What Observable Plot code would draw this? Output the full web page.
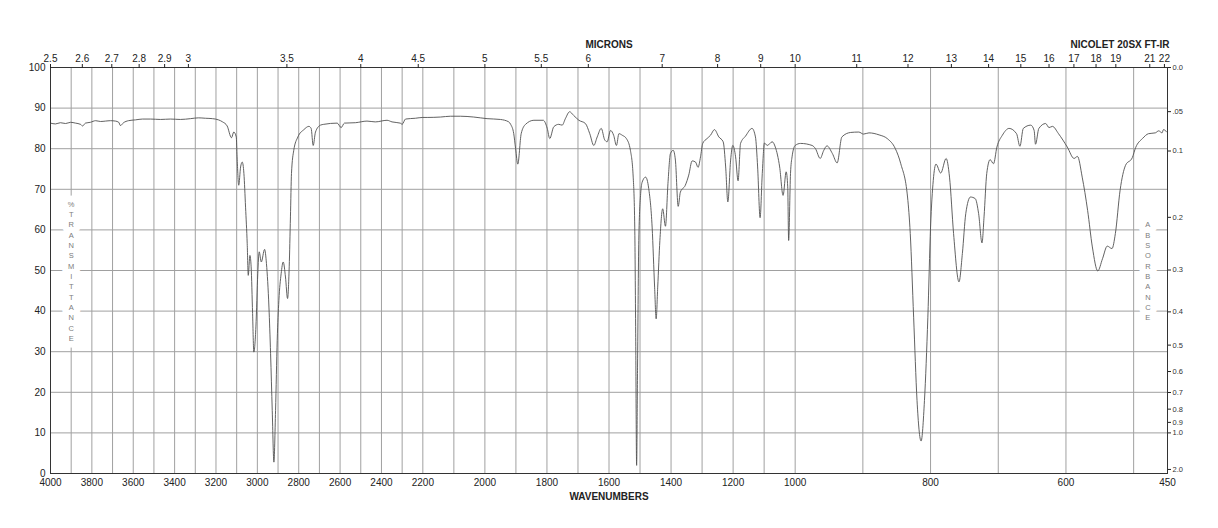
<!DOCTYPE html>
<html><head><meta charset="utf-8">
<script src="https://cdn.jsdelivr.net/npm/d3@7"></script>
<script src="https://cdn.jsdelivr.net/npm/@observablehq/plot@0.6"></script>
<style>html,body{margin:0;padding:0;background:#fff;} #chart svg{display:block}</style>
</head><body><div id="chart"></div>
<script>
// ---- data ----
const wavenumbers = [
4000,3976,3952,3927,3903,3879,3855,3845,3831,3807,3782,3758,3734,3710,3686,3670,3662,3647,3623,3589,
3555,3517,3468,3420,3372,3323,3285,3251,3217,3188,3168,3146,3125,3114,3102,3098,3090,3081,3073,3065,
3057,3049,3044,3036,3030,3023,3017,3007,2998,2991,2981,2965,2956,2944,2936,2928,2920,2912,2904,2896,
2885,2875,2864,2854,2846,2840,2835,2824,2804,2775,2751,2740,2730,2719,2695,2679,2614,2595,2579,2526,
2470,2430,2373,2349,2309,2300,2284,2236,2200,2186,2143,2111,2079,2036,1993,1950,1923,1917,1907,1901,
1894,1883,1869,1842,1812,1799,1791,1778,1762,1751,1740,1727,1714,1697,1676,1662,1649,1638,1625,1614,
1606,1595,1585,1576,1568,1557,1544,1531,1522,1517,1514,1511,1508,1504,1498,1493,1482,1472,1461,1453,
1448,1443,1436,1427,1418,1410,1402,1393,1386,1377,1370,1354,1343,1332,1321,1313,1305,1298,1284,1273,
1260,1246,1232,1224,1217,1208,1201,1192,1184,1176,1160,1139,1128,1121,1113,1106,1099,1090,1074,1064,
1050,1039,1029,1024,1021,1015,1010,1000,992,975,970,963,958,953,945,938,931,918,906,899,
891,876,864,852,844,834,830,825,820,814,809,804,800,796,792,785,777,772,766,758,
753,748,741,734,729,724,721,717,712,707,702,694,684,673,668,663,652,647,645,640,
630,625,620,611,598,588,583,576,568,561,553,546,539,532,527,520,512,502,497,487,
478,468,463,458,456,451
];
const transmittance = [
86.3,86.1,86.4,86.2,86.5,86.3,86.0,85.6,86.3,86.5,86.9,86.7,86.8,86.9,86.8,86.5,85.7,86.4,86.9,87.1,
87.3,87.3,87.2,87.3,87.2,87.4,87.6,87.5,87.4,87.1,86.6,85.6,82.7,84.1,82.9,78.0,71.0,75.5,76.7,73.9,
65.6,56.6,48.8,53.7,50.9,39.4,29.9,36.1,49.2,54.6,52.1,55.2,51.7,41.0,29.5,15.5,2.8,15.5,32.8,42.6,
49.2,52.1,48.4,43.1,50.9,63.2,73.9,79.6,82.9,84.7,85.5,85.0,80.8,84.1,85.8,86.0,86.3,85.2,86.3,86.4,
86.8,86.6,87.0,86.6,86.3,86.0,87.3,87.5,87.7,87.7,87.8,88.0,88.0,87.8,87.4,87.2,86.6,86.0,83.7,80.0,
76.2,83.7,86.0,87.0,87.0,85.0,82.5,85.4,86.0,85.8,87.5,89.1,88.2,87.0,86.2,83.7,80.8,82.9,85.0,82.2,
81.7,84.5,83.3,80.8,83.7,83.3,82.5,79.6,73.0,60.7,34.4,2.0,26.2,57.4,68.9,71.8,73.0,70.2,60.7,45.9,
38.1,45.9,57.4,65.2,60.9,71.4,78.8,79.6,77.2,65.8,69.3,71.0,73.5,77.0,76.7,75.4,78.0,81.3,82.5,83.3,
84.7,82.9,81.7,75.5,66.9,77.2,80.8,78.0,72.1,81.3,83.1,85.0,82.9,75.5,63.0,73.9,81.4,80.8,81.7,80.4,
75.5,68.5,74.3,70.6,57.4,73.9,78.0,80.8,81.3,80.8,80.0,77.6,79.5,80.7,78.8,76.5,82.9,84.0,84.1,83.6,
83.9,83.4,82.5,80.0,76.3,68.1,59.1,38.5,18.0,8.0,18.0,38.5,60.7,72.2,76.2,74.0,77.6,73.0,59.1,47.2,
54.2,64.0,68.1,67.7,64.0,56.8,63.2,73.9,77.3,76.3,80.4,83.3,85.0,83.7,80.6,85.0,85.8,84.5,81.1,85.0,
86.2,85.2,85.5,83.7,80.4,77.6,78.1,73.0,64.8,55.8,49.9,52.9,56.0,55.4,59.1,69.8,75.9,77.8,80.3,82.5,
83.7,83.9,84.4,83.9,84.7,84.1
];
const xBreaks = [4000, 2200, 1000, 450];
const bottomTicks = [4000,3800,3600,3400,3200,3000,2800,2600,2400,2200,2000,1800,1600,1400,1200,1000,800,600,450];
const micronTicks = [2.5,2.6,2.7,2.8,2.9,3,3.5,4,4.5,5,5.5,6,7,8,9,10,11,12,13,14,15,16,17,18,19,21,22];
const transTicks = [0,10,20,30,40,50,60,70,80,90,100];
const absTicks = [0,0.05,0.1,0.2,0.3,0.4,0.5,0.6,0.7,0.8,0.9,1.0,2.0];
const absLabels = ["0.0",".05","0.1","0.2","0.3","0.4","0.5","0.6","0.7","0.8","0.9","1.0","2.0"];
const gridWn = [3900,3800,3700,3600,3500,3400,3300,3200,3100,3000,2900,2800,2700,2600,2500,2400,2300,2200,2100,2000,
  1900,1800,1700,1600,1500,1400,1300,1200,1100,1000,900,800,700,600,500];
const gridT = [10,20,30,40,50,60,70,80,90];
const leftTitle = "%TRANSMITTANCE";
const rightTitle = "ABSORBANCE";

// ---- layout ----
const W = 1218, H = 528, mL = 50, mR = 51, mT = 67, mB = 55;
const inner = W - mL - mR;
const xRange = xBreaks.map((_, i) => mL + inner * i / (xBreaks.length - 1));
const data = wavenumbers.map((w, i) => ({w, t: transmittance[i]}));
const absPos = absTicks.map(a => 100 * Math.pow(10, -a));
const absMap = new Map(absPos.map((p, i) => [p, absLabels[i]]));
const stack = s => s.split("").join("\n");
const stacked = (label, x) => [
  Plot.text([stack(label)], {x, y: 50, fontSize: 7.5, lineHeight: 1.38, lineAnchor: "middle",
    fill: "white", stroke: "white", strokeWidth: 13, strokeLinejoin: "round"}),
  Plot.text([stack(label)], {x, y: 50, fontSize: 7.5, lineHeight: 1.38, lineAnchor: "middle", fill: "#7d7d7d"})
];

const chart = Plot.plot({
  width: W, height: H,
  marginLeft: mL, marginRight: mR, marginTop: mT, marginBottom: mB,
  style: {fontFamily: "'Liberation Sans', Arial, Helvetica, sans-serif", fontSize: "10px", color: "#222", background: "#fff", overflow: "visible"},
  x: {type: "linear", domain: xBreaks, range: xRange},
  y: {type: "linear", domain: [0, 100]},
  marks: [
    Plot.ruleX(gridWn, {stroke: "#a0a0a0", strokeWidth: 1}),
    Plot.ruleY(gridT, {stroke: "#a0a0a0", strokeWidth: 1}),
    ...stacked(leftTitle, 3900),
    ...stacked(rightTitle, 479),
    Plot.line(data, {x: "w", y: "t", stroke: "#505050", strokeWidth: 0.9, curve: "monotone-x"}),
    Plot.frame({stroke: "#333", strokeWidth: 1}),
    Plot.axisX({anchor: "bottom", ticks: bottomTicks, tickSize: 0, tickPadding: 5, label: null,
      tickFormat: d => String(d), fontSize: 10}),
    Plot.axisX({anchor: "top", ticks: micronTicks.map(m => 10000 / m), tickSize: 4, tickPadding: 2, label: null,
      tickFormat: d => String(+(10000 / d).toFixed(1)), fontSize: 10}),
    Plot.axisY({anchor: "left", ticks: transTicks, tickSize: 0, tickPadding: 5, label: null, fontSize: 10}),
    Plot.axisY({anchor: "right", ticks: absPos, tickSize: 3, tickPadding: 2, label: null,
      tickFormat: d => absMap.get(d), fontSize: 7.5, fill: "#333"}),
    Plot.text(["MICRONS"], {frameAnchor: "top", dy: -23, fontWeight: "bold", fontSize: 10, lineAnchor: "middle"}),
    Plot.text(["NICOLET 20SX FT-IR"], {frameAnchor: "top-right", textAnchor: "end", dx: 2, dy: -23, fontWeight: "bold", fontSize: 10, lineAnchor: "middle"}),
    Plot.text(["WAVENUMBERS"], {frameAnchor: "bottom", dy: 23, fontWeight: "bold", fontSize: 10, lineAnchor: "middle"})
  ]
});
document.getElementById("chart").appendChild(chart);
</script>
</body></html>
